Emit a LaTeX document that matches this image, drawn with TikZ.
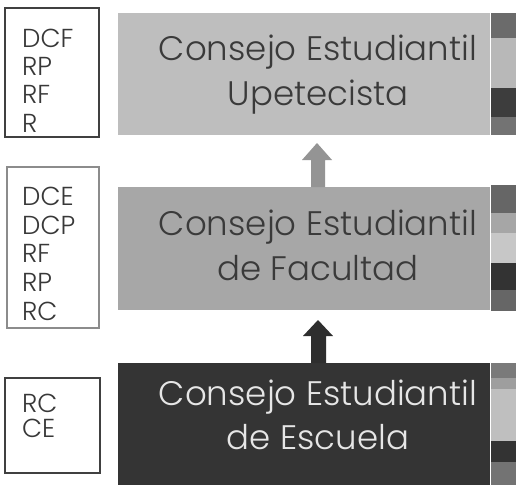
\documentclass[tikz,border=0pt]{standalone}
\usepackage{fontspec}
\IfFontExistsTF{Poppins Light}{\setmainfont{Poppins Light}[Ligatures=NoCommon]}{\setmainfont{Poppins}[Ligatures=NoCommon]}
\begin{document}
\begin{tikzpicture}[x=1pt,y=-1pt,
  lbl/.style={anchor=base west,inner sep=0pt,text=black!78,font=\fontsize{26}{28}\selectfont},
  mbox/.style={anchor=north west,inner sep=0pt,minimum width=372pt},
  mtxt/.style={anchor=base,inner sep=0pt,font=\fontsize{34}{40}\selectfont},
  seg/.style={fill=#1,draw=none,anchor=north west,inner sep=0pt,minimum width=25pt}
]
\useasboundingbox (0,0) rectangle (516,485);
\fill[white] (0,0) rectangle (516,485);
\definecolor{boxa}{HTML}{BEBEBE}
\definecolor{boxb}{HTML}{A7A7A7}
\definecolor{boxc}{HTML}{343434}
\definecolor{txtd}{HTML}{3A3A3A}
\definecolor{txtl}{HTML}{E6E6E6}

% main boxes
\node[mbox,fill=boxa,minimum height=122pt] (ceu) at (118,13) {};
\node[mbox,fill=boxb,minimum height=123pt] (cef) at (118,187) {};
\node[mbox,fill=boxc,minimum height=122pt] (cee) at (118,363) {};

% right strips
\node[seg=black!58,minimum height=25pt] (s1a) at (491,13) {};
\node[seg=black!28,minimum height=50pt] (s1b) at (491,38) {};
\node[seg=black!76,minimum height=29pt] (s1c) at (491,88) {};
\node[seg=black!55,minimum height=18pt] (s1d) at (491,117) {};

\node[seg=black!60,minimum height=28pt] (s2a) at (491,185) {};
\node[seg=black!35,minimum height=20pt] (s2b) at (491,213) {};
\node[seg=black!22,minimum height=30pt] (s2c) at (491,233) {};
\node[seg=black!80,minimum height=27pt] (s2d) at (491,263) {};
\node[seg=black!60,minimum height=21pt] (s2e) at (491,290) {};

\node[seg=black!52,minimum height=15pt] (s3a) at (491,363) {};
\node[seg=black!38,minimum height=11pt] (s3b) at (491,378) {};
\node[seg=black!25,minimum height=52pt] (s3c) at (491,389) {};
\node[seg=black!80,minimum height=21pt] (s3d) at (491,441) {};
\node[seg=black!55,minimum height=23pt] (s3e) at (491,462) {};

% main texts
\node[mtxt,text=txtd] (t1a) at (318,60) {Consejo Estudiantil};
\node[mtxt,text=txtd] (t1b) at (318,105) {Upetecista};
\node[mtxt,text=txtd] (t2a) at (318,235) {Consejo Estudiantil};
\node[mtxt,text=txtd] (t2b) at (318,280) {de Facultad};
\node[mtxt,text=txtl] (t3a) at (318,405) {Consejo Estudiantil};
\node[mtxt,text=txtl] (t3b) at (318,449) {de Escuela};

% arrows (from lower box up to upper box)
\fill[black!42] (cef.north -| 311,0) -- (311,160) -- (302,160) -- (317,143) -- (332,160) -- (325,160) -- (cef.north -| 325,0) -- cycle;
\fill[black!82] (cee.north -| 311,0) -- (311,336) -- (303,336) -- (318,320) -- (333,336) -- (326,336) -- (cee.north -| 326,0) -- cycle;

% left boxes
\draw[black!75,line width=1.3pt] (5,8) rectangle (99,137);
\draw[black!45,line width=1.1pt] (7,167) rectangle (99,328);
\draw[black!75,line width=1.3pt] (5,378) rectangle (100,473);

\node[lbl] (l1a) at (22,47) {DCF};
\node[lbl] (l1b) at (22,75) {RP};
\node[lbl] (l1c) at (22,103) {RF};
\node[lbl] (l1d) at (22,132) {R};

\node[lbl] (l2a) at (22,205) {DCE};
\node[lbl] (l2b) at (22,234) {DCP};
\node[lbl] (l2c) at (22,262.5) {RF};
\node[lbl] (l2d) at (22,291) {RP};
\node[lbl] (l2e) at (22,320) {RC};

\node[lbl] (l3a) at (22,412) {RC};
\node[lbl] (l3b) at (22,437) {CE};
\end{tikzpicture}
\end{document}
